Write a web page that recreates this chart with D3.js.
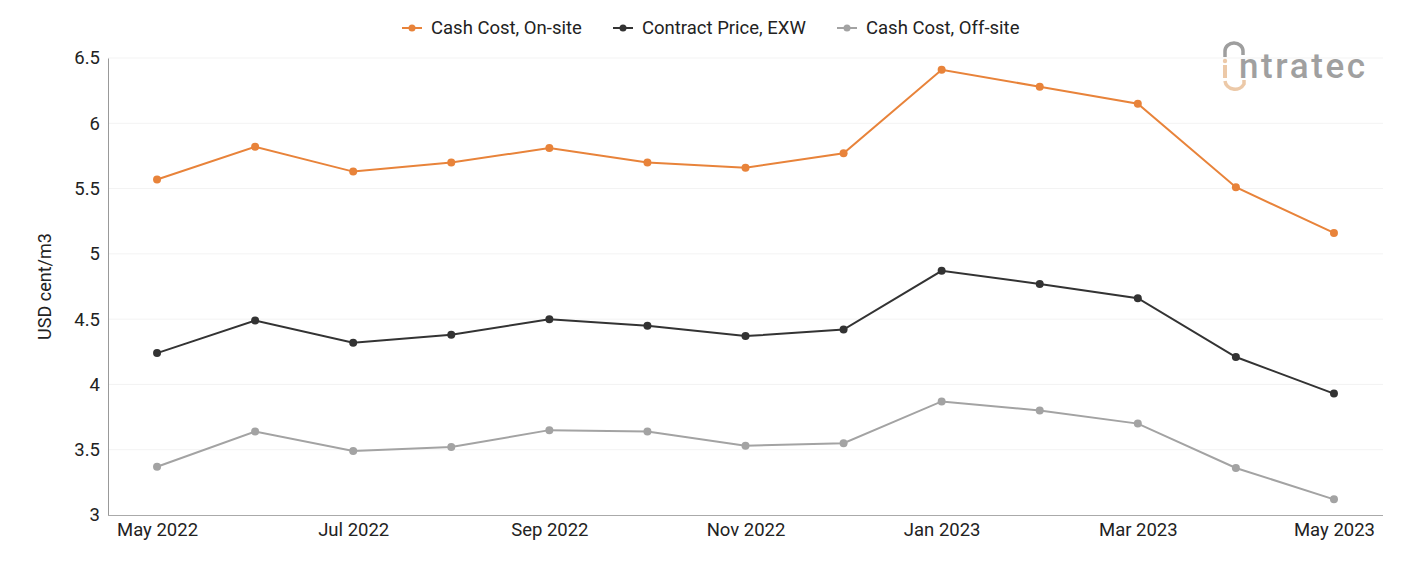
<!DOCTYPE html>
<html>
<head>
<meta charset="utf-8">
<script src="https://cdn.jsdelivr.net/npm/d3@7"></script>
<style>
  body { margin: 0; background: #fff; font-family: Roboto, "Noto Sans", sans-serif; }
</style>
</head>
<body>
<div id="chart"></div>
<script>
const months = ["May 2022", "Jun 2022", "Jul 2022", "Aug 2022", "Sep 2022", "Oct 2022", "Nov 2022",
    "Dec 2022", "Jan 2023", "Feb 2023", "Mar 2023", "Apr 2023", "May 2023"];
const cashOnSite = [5.57, 5.82, 5.63, 5.70, 5.81, 5.70, 5.66, 5.77, 6.41, 6.28, 6.15, 5.51, 5.16];
const contractExw = [4.24, 4.49, 4.32, 4.38, 4.50, 4.45, 4.37, 4.42, 4.87, 4.77, 4.66, 4.21, 3.93];
const cashOffSite = [3.37, 3.64, 3.49, 3.52, 3.65, 3.64, 3.53, 3.55, 3.87, 3.80, 3.70, 3.36, 3.12];
const yTicks = [3, 3.5, 4, 4.5, 5, 5.5, 6, 6.5];

const series = [
    { name: "Cash Cost, On-site", values: cashOnSite, color: "#E8833A" },
    { name: "Contract Price, EXW", values: contractExw, color: "#333333" },
    { name: "Cash Cost, Off-site", values: cashOffSite, color: "#A3A3A3" }
];

const W = 1401, H = 561;
const margin = { top: 58, right: 18, bottom: 46, left: 108 };
const width = W - margin.left - margin.right;
const height = H - margin.top - margin.bottom;

const svg = d3.select("#chart").append("svg")
    .attr("width", W)
    .attr("height", H);

const g = svg.append("g")
    .attr("transform", `translate(${margin.left}, ${margin.top})`);

const x = d3.scalePoint()
    .domain(months)
    .range([0, width])
    .padding(0.5);

const y = d3.scaleLinear()
    .domain([3, 6.5])
    .range([height, 0]);

// Grid lines
g.selectAll(".grid")
    .data(yTicks.filter(d => d > 3))
    .enter()
    .append("line")
    .attr("x1", 0)
    .attr("x2", width)
    .attr("y1", d => y(d))
    .attr("y2", d => y(d))
    .attr("stroke", "#f3f3f3")
    .attr("stroke-width", 1);

// Y axis
const yAxis = g.append("g")
    .call(d3.axisLeft(y).tickValues(yTicks).tickSize(0).tickPadding(8).tickFormat(d => d));
yAxis.select(".domain").attr("stroke", "#999");
yAxis.selectAll("text")
    .style("font-size", "18.5px")
    .style("font-family", "Roboto, sans-serif")
    .attr("fill", "#222");

// X axis
const xAxis = g.append("g")
    .attr("transform", `translate(0, ${height})`)
    .call(d3.axisBottom(x).tickSize(0).tickPadding(8)
        .tickFormat((d, i) => i % 2 === 0 ? d : ""));
xAxis.select(".domain").attr("stroke", "#aaa").attr("d", `M0,0.5H${width}`);
xAxis.selectAll("text")
    .style("font-size", "18.5px")
    .style("font-family", "Roboto, sans-serif")
    .attr("fill", "#222");

// Axis title
svg.append("text")
    .attr("transform", "rotate(-90)")
    .attr("x", -(margin.top + height / 2))
    .attr("y", 51)
    .attr("text-anchor", "middle")
    .style("font-size", "18px")
    .attr("fill", "#222")
    .text("USD cent/m3");

// Lines and points
const line = d3.line()
    .x((d, i) => x(months[i]))
    .y(d => y(d));

series.forEach(s => {
    g.append("path")
        .datum(s.values)
        .attr("fill", "none")
        .attr("stroke", s.color)
        .attr("stroke-width", 2)
        .attr("d", line);

    g.selectAll(null)
        .data(s.values)
        .enter()
        .append("circle")
        .attr("cx", (d, i) => x(months[i]))
        .attr("cy", d => y(d))
        .attr("r", 4)
        .attr("fill", s.color);
});

// Legend
const legendX = [402, 613, 837];
const legend = svg.append("g").attr("transform", "translate(0, 28)");
series.forEach((s, i) => {
    const item = legend.append("g").attr("transform", `translate(${legendX[i]}, 0)`);
    item.append("line")
        .attr("x1", 0).attr("x2", 20)
        .attr("stroke", s.color).attr("stroke-width", 2);
    item.append("circle")
        .attr("cx", 10).attr("r", 3.5).attr("fill", s.color);
    item.append("text")
        .attr("x", 29)
        .attr("dy", "0.35em")
        .style("font-size", "18.5px")
        .attr("fill", "#222")
        .text(s.name);
});

// Logo
const logo = svg.append("g").attr("transform", "translate(1222, 43)");
logo.append("path")
    .attr("d", "M3,14 L3,8 A9,8 0 0 1 21,8 L21,12")
    .attr("fill", "none")
    .attr("stroke", "#9e9e9e")
    .attr("stroke-width", 3.5);
logo.append("path")
    .attr("d", "M3,38 A10,9 0 0 0 22,41 L22,37")
    .attr("fill", "none")
    .attr("stroke", "#ecc9a8")
    .attr("stroke-width", 3.5);
logo.append("rect")
    .attr("x", 1).attr("y", 22).attr("width", 4).attr("height", 13)
    .attr("fill", "#ecc9a8");
logo.append("circle")
    .attr("cx", 3).attr("cy", 18).attr("r", 2.2).attr("fill", "#ecc9a8");
logo.append("text")
    .attr("x", 17)
    .attr("y", 35)
    .style("font-size", "35px")
    .style("font-weight", "500")
    .style("letter-spacing", "2.6px")
    .attr("fill", "#a0a0a0")
    .text("ntratec");
</script>
</body>
</html>
